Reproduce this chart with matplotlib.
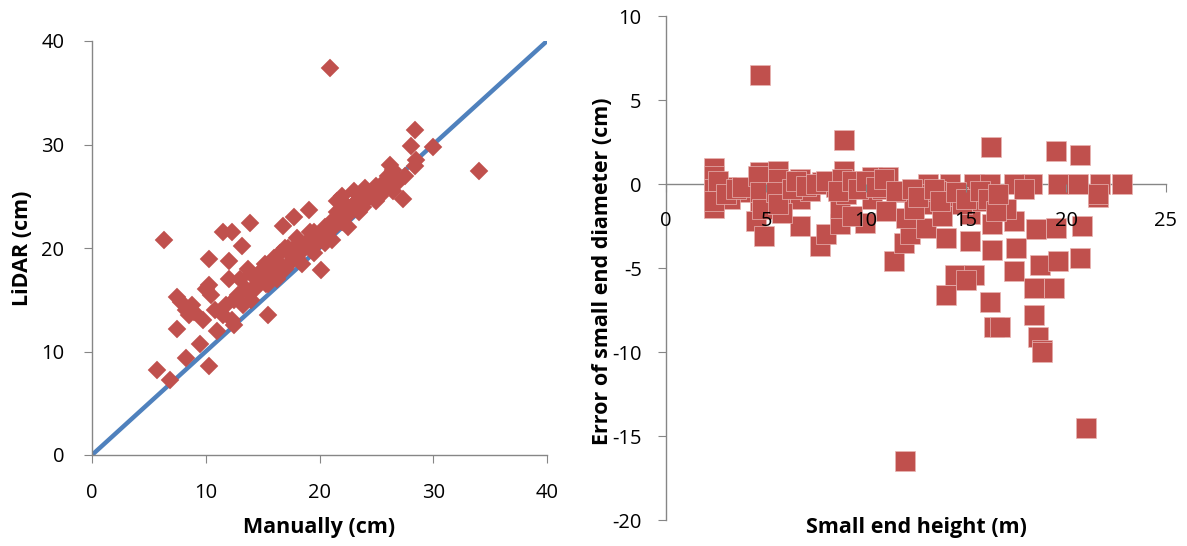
import matplotlib
matplotlib.use("Agg")
import matplotlib.pyplot as plt

# ---- Left panel data: manual vs LiDAR diameter (cm) ----
manual_cm = [6.3, 5.7, 6.9, 7.5, 7.8, 7.5, 8.3, 8.5, 8.3, 9.5, 10.3, 9.0, 10.3, 10.5, 10.3,
             11.0, 10.8, 11.5, 11.5, 12.3, 12.0, 12.5, 12.3, 12.5, 13.2, 13.9, 13.0, 13.5,
             14.0, 14.5, 14.0, 15.0, 15.5, 15.0, 15.5, 16.0, 16.0, 16.5, 16.8, 17.0, 17.0,
             17.5, 17.8, 18.0, 18.0, 18.5, 18.5, 19.0, 19.1, 19.5, 19.5, 20.0, 20.1, 20.5,
             20.5, 21.1, 21.0, 21.5, 21.5, 22.0, 22.0, 22.5, 22.5, 23.0, 23.0, 23.5, 23.5,
             24.0, 24.0, 24.5, 25.0, 25.0, 25.5, 26.0, 26.0, 26.2, 26.5, 26.5, 27.0, 27.35,
             27.5, 28.0, 28.4, 28.4, 28.5, 29.95, 34.0, 20.9,
             12.8, 13.3, 14.3, 14.8, 15.3, 15.8, 16.3, 16.7, 17.3, 17.7, 18.3, 18.8, 19.3,
             19.8, 20.3, 21.3, 21.8, 22.3, 22.8, 23.3, 23.8, 24.3, 24.8, 25.3, 25.8, 11.8,
             9.8, 8.8, 10.0, 12.0, 13.7, 15.2, 16.5, 17.2, 18.2, 19.2]
lidar_cm = [20.8, 8.2, 7.2, 15.3, 14.8, 12.2, 14.0, 13.5, 9.4, 10.7, 8.6, 13.8, 16.4, 15.5, 18.9,
            12.0, 14.0, 13.5, 21.5, 21.5, 18.7, 15.0, 13.0, 12.6, 20.2, 22.4, 17.0, 16.0,
            17.5, 16.5, 15.0, 17.0, 13.5, 18.0, 16.5, 19.0, 17.5, 18.5, 22.1, 18.0, 20.0,
            19.5, 23.0, 21.0, 19.0, 20.0, 18.5, 20.5, 23.7, 21.5, 19.5, 21.0, 17.9, 22.0,
            20.5, 20.8, 22.5, 23.5, 24.5, 22.5, 25.0, 24.0, 22.0, 25.5, 24.0, 23.5, 25.0,
            24.5, 25.8, 25.0, 24.5, 26.0, 25.5, 26.0, 27.0, 28.0, 27.5, 25.5, 26.5, 24.7,
            27.0, 29.85, 31.4, 27.9, 28.5, 29.8, 27.4, 37.4,
            15.5, 14.5, 16.0, 17.0, 16.5, 17.5, 17.0, 18.0, 18.5, 19.0, 19.5, 20.5, 20.0,
            20.5, 21.5, 22.0, 23.0, 23.0, 24.0, 24.5, 24.0, 25.0, 25.5, 25.0, 26.5, 14.5,
            13.0, 14.5, 16.0, 17.0, 18.0, 18.5, 19.5, 20.0, 20.5, 21.5]
one_to_one = [0, 40]

# ---- Right panel data: error of small end diameter (cm) vs height (m) ----
height_m = [4.7, 8.9, 16.27, 19.5, 20.7, 2.4, 4.7, 5.6, 8.9, 6.7, 10.3, 11.1, 18.3,
            13.1, 14.2, 15.4, 16.2, 17.4, 19.6, 20.6, 21.7, 22.8, 21.6,
            2.4, 2.4, 3.5, 4.5, 4.9, 4.7, 5.7, 6.7, 6.7, 7.7, 8.0, 8.7, 8.7, 9.0, 9.95,
            10.3, 11.4, 11.9, 12.2, 12.0, 13.0, 13.0, 14.0, 14.0, 14.45, 15.4, 15.0, 15.2,
            15.2, 16.2, 16.4, 16.7, 16.3, 16.3, 17.4, 17.5, 17.4, 18.4, 18.4, 18.6, 18.8,
            18.7, 18.5, 19.4, 19.6, 19.5, 20.7, 20.8, 21.6, 18.8, 21.0, 11.95,
            2.4, 3.0, 4.0, 5.2, 6.0, 7.2, 7.8, 8.5, 9.5, 10.8, 11.6, 12.5, 13.5, 14.6,
            15.8, 17.0, 17.9, 12.4, 11.0, 9.3, 5.8, 3.2, 14.8, 13.8,
            2.4, 2.4, 2.4, 2.6, 3.0, 3.5, 3.8, 4.6, 4.7, 4.8, 5.6, 5.5, 5.6, 6.3, 6.5,
            7.0, 7.5, 8.0, 8.8, 8.6, 9.3, 9.6, 10.0, 10.5, 10.9, 11.5, 12.3, 12.6, 13.4,
            13.7, 14.5, 15.0, 15.7, 16.1, 16.5, 16.6]
error_cm = [6.47, 2.6, 2.2, 1.96, 1.7, 0.97, 0.7, 0.77, 0.8, 0.28, 0.4, 0.44, 0.0,
            0.0, 0.0, 0.0, 0.0, 0.0, 0.0, 0.0, 0.0, 0.0, -0.8,
            -1.4, -0.6, -0.4, -2.2, -3.1, -1.0, -1.2, -2.5, -0.9, -3.7, -3.0, -2.4, -1.4,
            -0.6, -2.3, -0.9, -4.6, -3.5, -3.0, -2.0, -2.6, -1.2, -6.6, -3.2, -5.4, -5.4,
            -5.7, -3.4, -1.8, -7.0, -8.5, -8.5, -3.9, -2.4, -2.2, -3.8, -5.2, -6.2, -7.8,
            -9.1, -9.9, -4.8, -2.7, -6.2, -4.6, -2.6, -4.4, -2.5, -0.6, -10.0, -14.5, -16.5,
            0.3, -0.2, -0.5, -0.3, 0.2, -0.4, 0.1, -0.2, 0.1, -0.3, -0.5, -0.6, -0.4, -0.8,
            -1.0, -1.5, -0.3, -1.5, -1.6, -1.9, -1.7, -0.9, -1.2, -1.9,
            0.5, -0.3, -1.0, 0.2, -0.6, -0.3, -0.2, 0.5, -0.5, -1.5, 0.3, -0.5, -1.2, -0.3,
            0.2, -0.1, 0.0, 0.2, 0.3, -0.4, 0.2, -0.3, 0.2, -0.2, 0.3, -0.4, -0.3, -0.8,
            -0.3, -1.0, -0.5, -0.9, -0.4, -0.9, -1.6, -0.6]

red = "#C0504D"
blue = "#4F81BD"
grey = "#868686"

plt.rcParams['font.family'] = ['Open Sans', 'DejaVu Sans']
plt.rcParams['axes.unicode_minus'] = False

W, H = 1187, 546
fig = plt.figure(figsize=(W / 100, H / 100), dpi=100)

tick_fs = 14.5
lab_fs = 15.5

# Left panel
ax1 = fig.add_axes([92 / W, 91 / H, 455 / W, 414 / H])
ax1.plot(one_to_one, one_to_one, color=blue, lw=3.2, zorder=1, solid_capstyle='butt')
ax1.plot(manual_cm, lidar_cm, linestyle='none', marker='D', ms=8.8, color=red,
         mec=red, mew=0.3, zorder=2)
ax1.set_xlim(0, 40)
ax1.set_ylim(0, 40)
ax1.set_xticks([0, 10, 20, 30, 40])
ax1.set_yticks([0, 10, 20, 30, 40])
for s in ['top', 'right']:
    ax1.spines[s].set_visible(False)
for s in ['left', 'bottom']:
    ax1.spines[s].set_color(grey)
    ax1.spines[s].set_linewidth(1.0)
ax1.tick_params(direction='out', length=5.5, color=grey, labelsize=tick_fs)
ax1.tick_params(axis='x', pad=15)
ax1.tick_params(axis='y', pad=14.5)
ax1.set_xlabel("Manually (cm)", fontsize=lab_fs, fontweight='bold')
ax1.xaxis.set_label_coords((319 - 92) / 455, (455 - 527) / 414)
ax1.xaxis.label.set_va('center')
ax1.set_ylabel("LiDAR (cm)", fontsize=lab_fs, fontweight='bold')
ax1.yaxis.set_label_coords((23 - 92) / 455, (455 - 248) / 414)
ax1.yaxis.label.set_va('center')

# Right panel
ax2 = fig.add_axes([666 / W, 26 / H, 500 / W, 504 / H])
ax2.plot(height_m, error_cm, linestyle='none', marker='s', ms=14, color=red,
         mec="#E8B4B2", mew=0.5, zorder=2)
ax2.set_xlim(0, 25)
ax2.set_ylim(-20, 10)
ax2.set_xticks([0, 5, 10, 15, 20, 25])
ax2.set_yticks([-20, -15, -10, -5, 0, 5, 10])
ax2.spines['top'].set_visible(False)
ax2.spines['right'].set_visible(False)
ax2.spines['bottom'].set_position(('data', 0))
for s in ['left', 'bottom']:
    ax2.spines[s].set_color(grey)
    ax2.spines[s].set_linewidth(1.0)
ax2.spines['bottom'].set_zorder(1)
ax2.xaxis.set_zorder(3)
ax2.tick_params(direction='out', length=5.5, color=grey, labelsize=tick_fs)
ax2.tick_params(axis='x', pad=14)
ax2.tick_params(axis='y', pad=12)
ax2.set_xlabel("Small end height (m)", fontsize=lab_fs, fontweight='bold')
ax2.xaxis.set_label_coords(0.5, (520 - 528) / 504)
ax2.xaxis.label.set_va('center')
ax2.set_ylabel("Error of small end diameter (cm)", fontsize=lab_fs, fontweight='bold')
ax2.yaxis.set_label_coords((603 - 666) / 500, (520 - 271) / 504)
ax2.yaxis.label.set_va('center')

fig.savefig("out.png", dpi=100)
